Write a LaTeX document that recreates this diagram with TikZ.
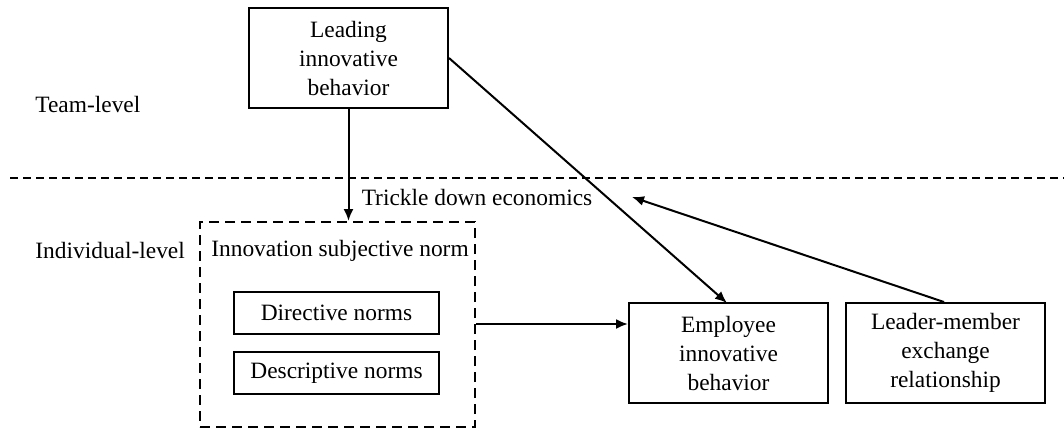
\documentclass[tikz,border=0pt]{standalone}
\usepackage{fontspec}
\setmainfont{Liberation Serif}
\newfontfamily\tnr{Liberation Serif}
\usetikzlibrary{arrows.meta}
\begin{document}
\begin{tikzpicture}[x=0.5pt,y=-0.5pt,
  box/.style={draw,line width=1pt,inner sep=0pt,align=center,font=\tnr\fontsize{11.7}{14.5}\selectfont},
  lbl/.style={inner sep=0pt,font=\tnr\fontsize{11.7}{14.5}\selectfont},
  arr/.style={line width=1pt,-{Latex[length=6pt,width=5pt]}}]
\useasboundingbox (0,0) rectangle (1064,430);
\node[box,minimum width=99.5pt,minimum height=50pt] (lead) at (348.5,58) {Leading\\innovative\\behavior};
\coordinate (dl) at (10,178);
\coordinate (dr) at (1064,178);
\draw[line width=0.6pt,dash pattern=on 4pt off 2.5pt] (dl) -- (dr);
\node[lbl,anchor=west] (team) at (35,104) {Team-level};
\node[lbl,anchor=west] (indiv) at (35,250) {Individual-level};
\node[draw,line width=1pt,dash pattern=on 5pt off 3pt,minimum width=137.5pt,minimum height=102.5pt,inner sep=0pt] (isn) at (337.5,324.5) {};
\node[lbl] (isnl) at (340,251) {Innovation subjective norm};
\node[box,minimum width=102.5pt,minimum height=21pt] (dir) at (336.5,313) {Directive norms};
\node[box,minimum width=102.5pt,minimum height=21pt] (des) at (336.5,373) {Descriptive norms};
\node[box,minimum width=99.5pt,minimum height=50pt] (emp) at (728.5,353) {Employee\\innovative\\behavior};
\node[box,minimum width=99.5pt,minimum height=50pt] (lmx) at (945.5,353) {Leader-member\\exchange\\relationship};
\node[lbl] (tde) at (477,197) {Trickle down economics};
\coordinate (tdeend) at (632,197);
\draw[arr] (lead.south) -- (isn.north -| lead.south);
\draw[arr] (lead.east |- 0,58) -- (727,303);
\draw[arr] (isn.east |- 0,324) -- (emp.west |- 0,324);
\draw[arr] (lmx.north -| 944,0) -- (tdeend);
\end{tikzpicture}
\end{document}
